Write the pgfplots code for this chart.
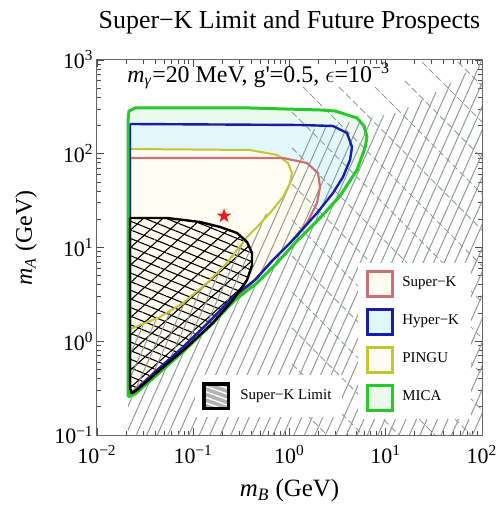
\documentclass[border=0pt]{standalone}
\usepackage{pgfplots}
\pgfplotsset{compat=1.18}
\usepackage{fontspec}
\setmainfont{Liberation Serif}
\usetikzlibrary{patterns.meta}

\definecolor{micaG}{RGB}{40,200,40}
\definecolor{hyperB}{RGB}{20,30,170}
\definecolor{superR}{RGB}{200,115,115}
\definecolor{pinguY}{RGB}{200,195,50}
\definecolor{fillG}{RGB}{234,250,237}
\definecolor{fillB}{RGB}{226,247,251}
\definecolor{fillC}{RGB}{255,253,242}
\definecolor{hatchG}{RGB}{145,155,150}
\definecolor{starR}{RGB}{235,25,25}

\pgfdeclareplotmark{fstar}{%
  \pgfpathmoveto{\pgfpointpolar{90}{\pgfplotmarksize}}%
  \pgfpathlineto{\pgfpointpolar{126}{0.4\pgfplotmarksize}}%
  \pgfpathlineto{\pgfpointpolar{162}{\pgfplotmarksize}}%
  \pgfpathlineto{\pgfpointpolar{198}{0.4\pgfplotmarksize}}%
  \pgfpathlineto{\pgfpointpolar{234}{\pgfplotmarksize}}%
  \pgfpathlineto{\pgfpointpolar{270}{0.4\pgfplotmarksize}}%
  \pgfpathlineto{\pgfpointpolar{306}{\pgfplotmarksize}}%
  \pgfpathlineto{\pgfpointpolar{342}{0.4\pgfplotmarksize}}%
  \pgfpathlineto{\pgfpointpolar{18}{\pgfplotmarksize}}%
  \pgfpathlineto{\pgfpointpolar{54}{0.4\pgfplotmarksize}}%
  \pgfpathclose
  \pgfusepathqfill
}

\begin{document}
\begin{tikzpicture}
\useasboundingbox (-48.5bp,-35bp) rectangle (200bp,217.5bp);
\begin{axis}[
  at={(0,0)}, anchor=south west,
  width=192.5bp, height=187.5bp, scale only axis,
  xmode=log, ymode=log,
  xmin=0.01, xmax=100, ymin=0.1, ymax=1000,
  xtick={0.01,0.1,1,10,100},
  xticklabels={10\textsuperscript{−2},10\textsuperscript{−1},10\textsuperscript{0},10\textsuperscript{1},10\textsuperscript{2}},
  ytick={0.1,1,10,100,1000},
  yticklabels={10\textsuperscript{−1},10\textsuperscript{0},10\textsuperscript{1},10\textsuperscript{2},10\textsuperscript{3}},
  tick align=inside,
  major tick length=3.5bp, minor tick length=2bp,
  tick style={black!70, line width=0.4bp},
  axis line style={black!60, line width=0.5bp},
  tick label style={font=\fontsize{11}{12}\selectfont},
  xticklabel style={anchor=base, yshift=-14bp},
  yticklabel style={inner xsep=1.5bp},
  every axis title shift=0pt,
  title={Super−K Limit and Future Prospects},
  title style={at={(axis description cs:0.5,1.083)}, anchor=base, font=\fontsize{13}{15}\selectfont},
  xlabel={\textit{m}\textsubscript{\textit{B}} (GeV)},
  xlabel style={at={(axis description cs:0.5,-0.165)}, anchor=base, font=\fontsize{12.5}{15}\selectfont},
  ylabel={\textit{m}\textsubscript{\textit{A}} (GeV)},
  ylabel style={at={(axis description cs:-0.169,0.525)}, anchor=base, font=\fontsize{12}{15}\selectfont},
  unbounded coords=jump,
  legend image code/.code={\draw[#1] (0bp,-6.25bp) rectangle (12.5bp,6.25bp);},
  legend style={at={(axis description cs:0.678,0.461)}, anchor=north west, draw=none, fill=white,
    inner xsep=4bp, inner ysep=3.5bp, row sep=5bp, column sep=2bp,
    font=\fontsize{7.5}{9}\selectfont},
  legend cell align=left,
]
% region fills
\addplot[fill=fillG, draw=none, forget plot] coordinates {
(0.0210,0.254) (0.0248,0.274) (0.0420,0.437) (0.0821,0.807) (0.149,1.454) (0.272,2.754) (0.460,4.181) (0.707,6.506) (1.141,11.17) (2.075,20.64) (3.347,35.42) (5.027,67.1) (6.086,115.2) (6.386,150.9) (5.943,197.7) (5.027,240.6) (2.97,285.8) (2.075,292.9) (0.389,307.6) (0.0248,307.6) (0.0215,285.8) (0.0210,229.1) (0.0210,0.254)};
\addplot[fill=fillB, draw=none, forget plot] coordinates {
(0.0220,207.6) (1.286,202.6) (2.831,197.7) (3.958,166.5) (4.461,118.0) (4.253,85.8) (3.595,56.5) (2.831,38.13) (1.931,23.33) (1.087,12.02) (0.674,7.356) (0.438,4.501) (0.259,2.965) (0.142,1.566) (0.0783,0.8685) (0.0400,0.470) (0.0237,0.2805) (0.0220,0.2805) (0.0220,207.6)};
\addplot[fill=fillC, draw=none, forget plot] coordinates {
(0.0220,112.4) (0.389,109.6) (0.742,96.98) (0.965,79.65) (1.062,62.3) (1.012,48.75) (0.856,34.57) (0.627,23.33) (0.460,16.55) (0.362,12.94) (0.224,6.835) (0.139,4.181) (0.0783,2.559) (0.0451,1.814) (0.0237,1.385) (0.0220,1.35) (0.0220,112.4)};
\addplot[fill=fillC, draw=none, forget plot] coordinates {
(0.0220,90.1) (0.856,90.1) (1.520,79.65) (1.978,62.3) (2.075,44.19) (1.931,29.83) (1.520,18.25) (1.012,11.17) (0.627,6.835) (0.389,3.981) (0.241,2.622) (0.1357,1.490) (0.0764,0.827) (0.0400,0.470) (0.0231,0.2875) (0.0220,0.2875) (0.0220,90.1)};
% Super-K limit crosshatch
\addplot[draw=none, pattern={Lines[angle=-22,distance=4bp,line width=0.55bp]}, pattern color=black, forget plot] coordinates {
(0.0220,20.64) (0.0534,20.64) (0.1175,18.71) (0.190,16.55) (0.285,14.28) (0.362,11.45) (0.408,8.735) (0.408,6.506) (0.362,4.501) (0.259,2.754) (0.160,1.566) (0.0861,0.8685) (0.0451,0.4936) (0.0260,0.302) (0.0231,0.2805) (0.0220,0.3172) (0.0220,20.64)};
\addplot[draw=none, pattern={Lines[angle=42,distance=6.5bp,line width=0.55bp]}, pattern color=black, forget plot] coordinates {
(0.0220,20.64) (0.0534,20.64) (0.1175,18.71) (0.190,16.55) (0.285,14.28) (0.362,11.45) (0.408,8.735) (0.408,6.506) (0.362,4.501) (0.259,2.754) (0.160,1.566) (0.0861,0.8685) (0.0451,0.4936) (0.0260,0.302) (0.0231,0.2805) (0.0220,0.3172) (0.0220,20.64)};
% grey hatched excluded region
\addplot[draw=none, pattern={Lines[angle=66,distance=4.8bp,line width=0.5bp]}, pattern color=hatchG, forget plot] coordinates {
(0.0210,0.1) (0.0210,1.255) (0.0451,1.770) (0.0783,2.559) (0.139,4.181) (0.224,6.835) (0.362,12.94) (0.557,22.22) (0.856,34.57) (1.286,85.8) (1.633,179.2) (4.253,218.1) (14.06,278.8) (36.61,478.6) (75.04,782.2) (100,1000) (100,0.1) (0.0210,0.1)};
% dashed grey lines
\addplot[hatchG, line width=0.5bp, dash pattern=on 3.2bp off 1.8bp, forget plot] coordinates {
(56.32,952.1) (100,528.1) (nan,nan)
(23.80,952.1) (100,218.1) (nan,nan)
(15.85,597.0) (100,90.1) (nan,nan)
(7.733,515.2) (100,37.21) (nan,nan)
(3.268,515.2) (100,15.37) (nan,nan)
(1.381,515.2) (100,6.351) (nan,nan)
(1.062,278.8) (100,2.622) (nan,nan)
(1.062,115.2) (100,1.083) (nan,nan)
(1.062,47.56) (100,0.4474) (nan,nan)
(1.062,19.65) (100,0.1848) (nan,nan)
(1.062,8.118) (76.86,0.1) (nan,nan)
(1.062,3.352) (32.49,0.1) (nan,nan)
(1.062,1.385) (13.73,0.1) (nan,nan)
(1.062,0.5721) (5.802,0.1) (nan,nan)
(1.062,0.2362) (2.453,0.1)};
% contour outlines
\addplot[pinguY, line width=1bp, line join=round, forget plot] coordinates {
(0.0220,112.4) (0.389,109.6) (0.742,96.98) (0.965,79.65) (1.062,62.3) (1.012,48.75) (0.856,34.57) (0.627,23.33) (0.460,16.55) (0.362,12.94) (0.224,6.835) (0.139,4.181) (0.0783,2.559) (0.0451,1.814) (0.0237,1.385) (0.0220,1.35) (0.0220,112.4)};
\addplot[superR, line width=1.1bp, line join=round, forget plot] coordinates {
(0.0220,90.1) (0.856,90.1) (1.520,79.65) (1.978,62.3) (2.075,44.19) (1.931,29.83) (1.520,18.25) (1.012,11.17) (0.627,6.835) (0.389,3.981) (0.241,2.622) (0.1357,1.490) (0.0764,0.827) (0.0400,0.470) (0.0231,0.2875) (0.0220,0.2875) (0.0220,90.1)};
\addplot[hyperB, line width=1.2bp, line join=round, forget plot] coordinates {
(0.0220,207.6) (1.286,202.6) (2.831,197.7) (3.958,166.5) (4.461,118.0) (4.253,85.8) (3.595,56.5) (2.831,38.13) (1.931,23.33) (1.087,12.02) (0.674,7.356) (0.438,4.501) (0.259,2.965) (0.142,1.566) (0.0783,0.8685) (0.0400,0.470) (0.0237,0.2805) (0.0220,0.2805) (0.0220,207.6)};
\addplot[micaG, line width=1.5bp, line join=round, forget plot] coordinates {
(0.0210,0.254) (0.0248,0.274) (0.0420,0.437) (0.0821,0.807) (0.149,1.454) (0.272,2.754) (0.460,4.181) (0.707,6.506) (1.141,11.17) (2.075,20.64) (3.347,35.42) (5.027,67.1) (6.086,115.2) (6.386,150.9) (5.943,197.7) (5.027,240.6) (2.97,285.8) (2.075,292.9) (0.389,307.6) (0.0248,307.6) (0.0215,285.8) (0.0210,229.1) (0.0210,0.254)};
\addplot[black, line width=1.2bp, line join=round, forget plot] coordinates {
(0.0220,20.64) (0.0534,20.64) (0.1175,18.71) (0.190,16.55) (0.285,14.28) (0.362,11.45) (0.408,8.735) (0.408,6.506) (0.362,4.501) (0.259,2.754) (0.160,1.566) (0.0861,0.8685) (0.0451,0.4936) (0.0260,0.302) (0.0231,0.2805) (0.0220,0.3172) (0.0220,20.64)};
% benchmark star
\addplot[only marks, mark=fstar, mark size=3.8bp, color=starR, forget plot] coordinates {(0.209,21.7)};
% annotation
\node[anchor=base west, font=\fontsize{12}{14}\selectfont, inner sep=0pt] at (axis cs:0.0205,582)
  {\textit{m}\textsubscript{\textit{γ}}=20 MeV, g\textquotesingle=0.5, $\epsilon$=10\textsuperscript{−3}};
% legend
\addlegendimage{draw=superR, fill=fillC, line width=1.5bp}
\addlegendentry{Super−K}
\addlegendimage{draw=hyperB, fill=fillB, line width=1.5bp}
\addlegendentry{Hyper−K}
\addlegendimage{draw=pinguY, fill=fillC, line width=1.5bp}
\addlegendentry{PINGU}
\addlegendimage{draw=micaG, fill=fillG, line width=1.5bp}
\addlegendentry{MICA}
\end{axis}
\begin{axis}[
  at={(0,0)}, anchor=south west,
  width=192.5bp, height=187.5bp, scale only axis,
  hide axis, xmin=0, xmax=1, ymin=0, ymax=1,
  legend image code/.code={%
    \draw[black, line width=1.5bp, fill=gray!60] (0bp,-6.25bp) rectangle (12.5bp,6.25bp);
    \fill[pattern={Lines[angle=-20,distance=2.6bp,line width=0.7bp]}, pattern color=white] (0.75bp,-5.5bp) rectangle (11.75bp,5.5bp);},
  legend style={at={(axis description cs:0.2545,0.16)}, anchor=north west, draw=none, fill=white,
    inner xsep=3.5bp, inner ysep=3.5bp, column sep=3bp,
    font=\fontsize{7.5}{9}\selectfont},
]
\addlegendimage{}
\addlegendentry{Super−K Limit}
\end{axis}
\end{tikzpicture}
\end{document}
